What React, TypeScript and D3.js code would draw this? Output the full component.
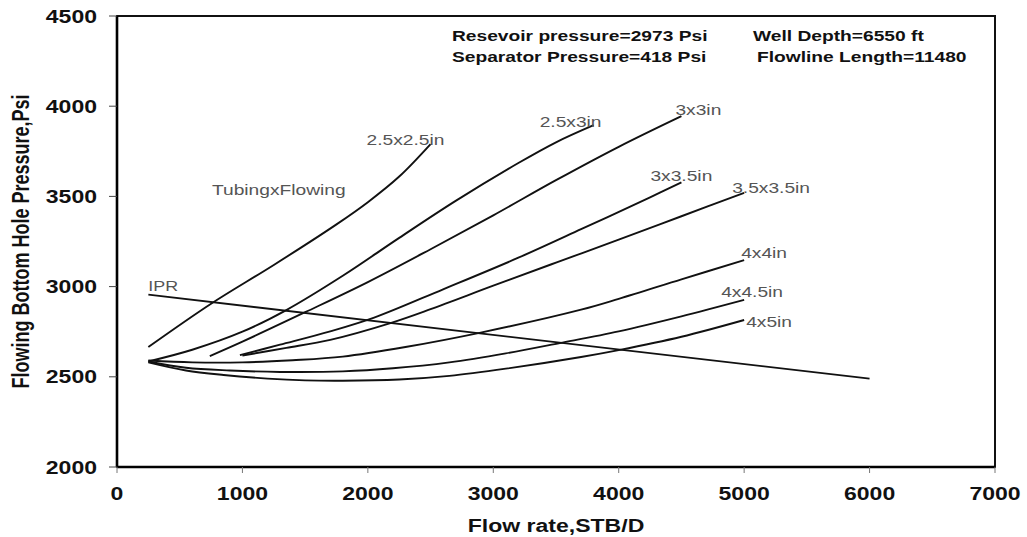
import React from "react";
import * as d3 from "d3";

// Flow rate (STB/D) vs flowing bottom-hole pressure (psi), one array per curve
const iprCurve: [number, number][] = [[250, 2955], [6000, 2490]];

const tpr25x25: [number, number][] = [[250, 2665], [750, 2905], [1250, 3120], [1750, 3345], [2000, 3468], [2250, 3610], [2500, 3790]];
const tpr25x3: [number, number][] = [[250, 2585], [600, 2650], [1000, 2750], [1350, 2870], [1800, 3060], [2250, 3270], [2700, 3475], [3200, 3685], [3500, 3800], [3800, 3895]];
const tpr3x3: [number, number][] = [[740, 2615], [1000, 2695], [1500, 2858], [2000, 3025], [2500, 3207], [3000, 3395], [3500, 3590], [4000, 3775], [4500, 3945]];
const tpr3x35: [number, number][] = [[980, 2620], [1300, 2678], [1700, 2752], [2050, 2828], [2600, 2985], [3200, 3160], [3700, 3318], [4250, 3495], [4500, 3578]];
const tpr35x35: [number, number][] = [[1000, 2618], [1350, 2660], [1700, 2705], [2180, 2798], [2500, 2875], [3000, 3005], [3500, 3133], [4000, 3260], [4500, 3390], [5000, 3520]];
const tpr4x4: [number, number][] = [[250, 2590], [600, 2580], [1000, 2580], [1400, 2592], [1800, 2612], [2300, 2665], [2900, 2745], [3700, 2872], [4000, 2932], [4500, 3040], [5000, 3147]];
const tpr4x45: [number, number][] = [[250, 2585], [550, 2550], [900, 2535], [1300, 2527], [1800, 2530], [2200, 2547], [2650, 2580], [3100, 2630], [3530, 2687], [4000, 2752], [4500, 2835], [5000, 2926]];
const tpr4x5: [number, number][] = [[250, 2580], [550, 2535], [850, 2510], [1200, 2490], [1500, 2480], [1800, 2478], [2250, 2485], [2650, 2505], [3100, 2545], [3700, 2610], [4000, 2648], [4500, 2722], [5000, 2815]];

const curveNames = ["2.5x2.5in", "2.5x3in", "3x3in", "3x3.5in", "3.5x3.5in", "4x4in", "4x4.5in", "4x5in"];
const curveSeries = [tpr25x25, tpr25x3, tpr3x3, tpr3x35, tpr35x35, tpr4x4, tpr4x45, tpr4x5];

const xTicks = [0, 1000, 2000, 3000, 4000, 5000, 6000, 7000];
const yTicks = [2000, 2500, 3000, 3500, 4000, 4500];

const notes = [
  "Resevoir pressure=2973 Psi",
  "Separator Pressure=418 Psi",
  "Well Depth=6550 ft",
  "Flowline Length=11480",
];

// Label offsets from each curve's last point (px)
const labelOffsets: [number, number][] = [
  [-64, 1], [-54, 2], [-6, -1], [-31, -1], [-12, 0], [-3, -2], [-23, -3], [2, 7],
];

const W = 1027;
const H = 537;
const M = { left: 117, right: 995, top: 16, bottom: 467 };
const SX = 1.28; // horizontal text stretch
const FONT = "'Liberation Sans', Arial, Helvetica, sans-serif";

function Txt(props: {
  x: number; y: number; size: number; bold?: boolean; anchor?: string;
  fill?: string; rotate?: boolean; children: React.ReactNode;
}) {
  const { x, y, size, bold, anchor = "start", fill = "#111", rotate } = props;
  return (
    <text
      transform={`translate(${x},${y}) scale(${SX},1)${rotate ? " rotate(-90)" : ""}`}
      fontFamily={FONT}
      fontSize={size}
      fontWeight={bold ? "bold" : "normal"}
      textAnchor={anchor}
      fill={fill}
    >
      {props.children}
    </text>
  );
}

export default function App() {
  const x = d3.scaleLinear().domain([0, 7000]).range([M.left, M.right]);
  const y = d3.scaleLinear().domain([2000, 4500]).range([M.bottom, M.top]);
  const line = d3
    .line<[number, number]>()
    .x((d) => x(d[0]))
    .y((d) => y(d[1]))
    .curve(d3.curveCatmullRom.alpha(0.5));

  const iprStart = iprCurve[0];

  return (
    <svg
      width={W}
      height={H}
      style={{ position: "absolute", left: 0, top: 0, background: "#fff" }}
    >
      <rect x={0} y={0} width={W} height={H} fill="#fff" />

      {/* plot frame */}
      <rect
        x={M.left}
        y={M.top}
        width={M.right - M.left}
        height={M.bottom - M.top}
        fill="none"
        stroke="#111"
        strokeWidth={2}
      />
      <line x1={M.left} x2={M.left} y1={M.top} y2={M.bottom} stroke="#000" strokeWidth={2.6} />
      <line x1={M.left} x2={M.right} y1={M.bottom} y2={M.bottom} stroke="#000" strokeWidth={2.6} />

      {/* y axis */}
      {yTicks.map((t) => (
        <g key={`y${t}`}>
          <line x1={M.left - 8} x2={M.left} y1={y(t)} y2={y(t)} stroke="#444" strokeWidth={1} />
          <Txt x={97} y={y(t) + 6.5} size={18} bold anchor="end">{t}</Txt>
        </g>
      ))}

      {/* x axis */}
      {xTicks.map((t) => (
        <g key={`x${t}`}>
          <line x1={x(t)} x2={x(t)} y1={M.bottom} y2={M.bottom + 6} stroke="#777" strokeWidth={1} />
          <Txt x={x(t)} y={500} size={18} bold anchor="middle">{t}</Txt>
        </g>
      ))}

      <Txt x={(M.left + M.right) / 2} y={532} size={18} bold anchor="middle">Flow rate,STB/D</Txt>
      <Txt x={28.5} y={(M.top + M.bottom) / 2} size={18} bold anchor="middle" rotate>
        Flowing Bottom Hole Pressure,Psi
      </Txt>

      {/* curves */}
      <path d={line(iprCurve) || ""} fill="none" stroke="#111" strokeWidth={1.8} />
      {curveSeries.map((s, i) => (
        <path key={curveNames[i]} d={line(s) || ""} fill="none" stroke="#111" strokeWidth={1.9} />
      ))}

      {/* curve labels */}
      {curveSeries.map((s, i) => {
        const end = s[s.length - 1];
        return (
          <Txt
            key={`l${i}`}
            x={x(end[0]) + labelOffsets[i][0]}
            y={y(end[1]) + labelOffsets[i][1]}
            size={15}
            fill="#555"
          >
            {curveNames[i]}
          </Txt>
        );
      })}
      <Txt x={x(iprStart[0])} y={y(iprStart[1]) - 4} size={14} fill="#555">IPR</Txt>
      <Txt x={212} y={195} size={15} fill="#555">TubingxFlowing</Txt>

      {/* well data */}
      <Txt x={452} y={41} size={15} bold>{notes[0]}</Txt>
      <Txt x={452} y={62} size={15} bold>{notes[1]}</Txt>
      <Txt x={753} y={41} size={15} bold>{notes[2]}</Txt>
      <Txt x={757} y={62} size={15} bold>{notes[3]}</Txt>
    </svg>
  );
}
